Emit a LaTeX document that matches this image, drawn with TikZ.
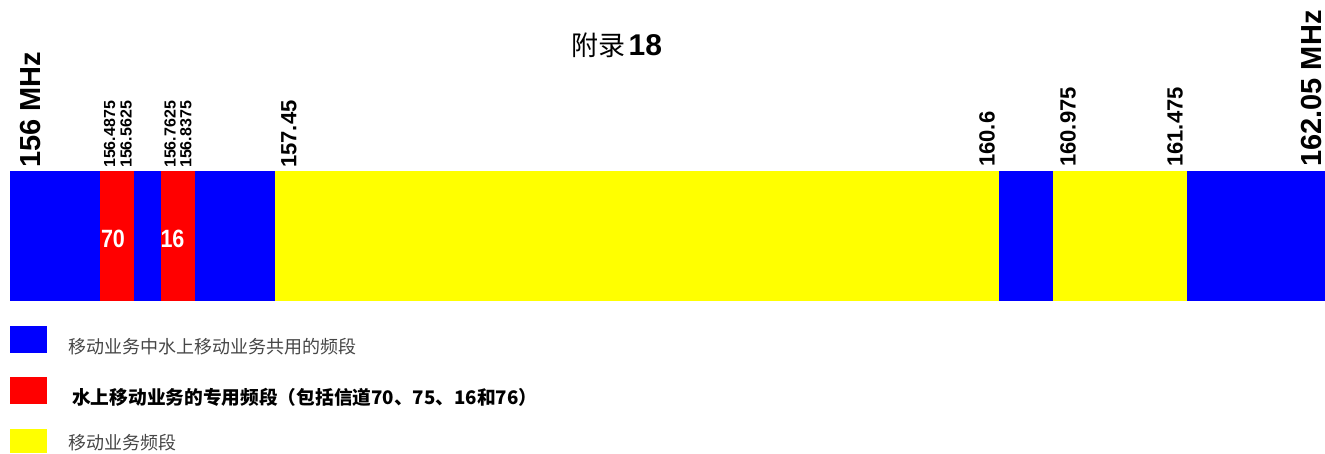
\documentclass[tikz,border=0pt]{standalone}
\usepackage{graphicx}
\usepackage{fontspec}
\setmainfont{Liberation Sans}
\newfontfamily\cjk{Noto Sans CJK SC}
\definecolor{bandblue}{RGB}{0,0,255}
\definecolor{bandred}{RGB}{255,0,0}
\definecolor{bandyellow}{RGB}{255,255,0}
\definecolor{leggray}{RGB}{70,70,70}
\begin{document}
\begin{tikzpicture}[x=1pt,y=-1pt,
  freqbig/.style={rotate=90,anchor=west,inner sep=0pt,font=\bfseries\fontsize{29}{29}\selectfont},
  freqmid/.style={rotate=90,anchor=west,inner sep=0pt,font=\bfseries\fontsize{22}{22}\selectfont},
  freqsmall/.style={rotate=90,anchor=west,inner sep=0pt,font=\bfseries\fontsize{16}{16}\selectfont},
  chan/.style={inner sep=0pt,text=white,font=\bfseries\fontsize{25}{25}\selectfont},
  legtext/.style={anchor=west,inner sep=0pt,font=\cjk\fontsize{18}{18}\selectfont},
  legbox/.style={draw=none,minimum width=37pt,minimum height=27pt,inner sep=0pt}]
\useasboundingbox (0,0) rectangle (1325,453);
% title
\node[anchor=base,inner sep=0pt] (title) at (617,55) {{\cjk\fontsize{27}{27}\selectfont 附录} {\bfseries\fontsize{30}{30}\selectfont 18}};
% band segments
\fill[bandblue]   (10,171)  rectangle (100,301);
\fill[bandred]    (100,171) rectangle (134,301);
\fill[bandblue]   (134,171) rectangle (161,301);
\fill[bandred]    (161,171) rectangle (195,301);
\fill[bandblue]   (195,171) rectangle (275,301);
\fill[bandyellow] (275,171) rectangle (999,301);
\fill[bandblue]   (999,171) rectangle (1053,301);
\fill[bandyellow] (1053,171) rectangle (1187,301);
\fill[bandblue]   (1187,171) rectangle (1325,301);
% channel numbers
\node[chan] (c70) at (113,239) {\scalebox{0.86}[1]{70}};
\node[chan] (c16) at (172.5,239) {\scalebox{0.86}[1]{16}};
% frequency labels
\node[freqbig] (f156) at (31,168) {156 MHz};
\node[freqbig] (f16205) at (1311,167) {162.05 MHz};
\node[freqsmall] (f1564875) at (109.5,168) {156.4875};
\node[freqsmall] (f1565625) at (126,168) {156.5625};
\node[freqsmall] (f1567625) at (170,168) {156.7625};
\node[freqsmall] (f1568375) at (186,168) {156.8375};
\node[freqmid] (f15745) at (289,168) {157.45};
\node[freqmid] (f1606) at (987,167) {160.6};
\node[freqmid] (f160975) at (1068,167) {160.975};
\node[freqmid] (f161475) at (1175,167) {161.475};
% legend
\node[legbox,fill=bandblue] (kblue) at (28.5,339.5) {};
\node[legbox,fill=bandred] (kred) at (28.5,390.5) {};
\node[legbox,fill=bandyellow,minimum height=24pt] (kyellow) at (28.5,441) {};
\node[legtext,text=leggray] (tblue) at (68,347) {移动业务中水上移动业务共用的频段};
\node[legtext,font=\cjk\bfseries\fontsize{18.7}{18.7}\selectfont] (tred) at (72,397) {水上移动业务的专用频段（包括信道70、75、16和76）};
\node[legtext,text=leggray] (tyellow) at (68,443) {移动业务频段};
\end{tikzpicture}
\end{document}
